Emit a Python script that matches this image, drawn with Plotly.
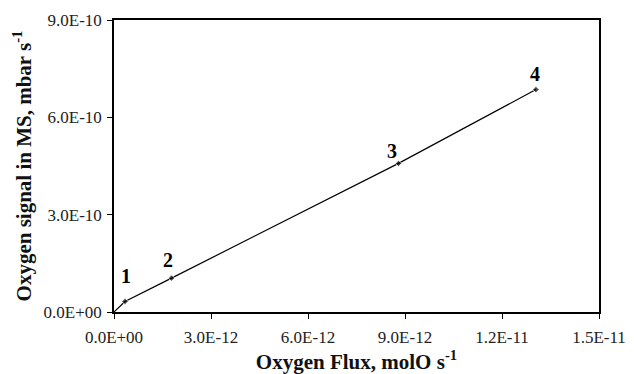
import plotly.graph_objects as go

# Data
flux = [0.0, 3.4e-13, 1.78e-12, 8.8e-12, 1.305e-11]
signal = [0.0, 3.25e-11, 1.045e-10, 4.58e-10, 6.855e-10]
labels = ["", "1", "2", "3", "4"]
x_ticks = [0, 3e-12, 6e-12, 9e-12, 1.2e-11, 1.5e-11]
x_ticktext = ["0.0E+00", "3.0E-12", "6.0E-12", "9.0E-12", "1.2E-11", "1.5E-11"]
y_ticks = [0, 3e-10, 6e-10, 9e-10]
y_ticktext = ["0.0E+00", "3.0E-10", "6.0E-10", "9.0E-10"]
label_dx = [0, 1, -4, -7, -1]
label_dy = [0, 25, 18, 12, 16]

FONT = "Liberation Serif"

fig = go.Figure()
fig.add_trace(go.Scatter(
    x=flux, y=signal, mode="lines+markers",
    line=dict(color="black", width=1.2),
    marker=dict(color="black", size=[0, 5, 5, 5, 5], symbol="diamond"),
    showlegend=False, cliponaxis=False,
))

for xv, yv, t, dx, dy in zip(flux, signal, labels, label_dx, label_dy):
    if not t:
        continue
    fig.add_annotation(x=xv, y=yv, text="<b>%s</b>" % t, showarrow=False,
                       xshift=dx, yshift=dy,
                       font=dict(family=FONT, size=20, color="black"))

fig.update_layout(
    width=634, height=374,
    margin=dict(l=114, r=35, t=19.5, b=62),
    paper_bgcolor="white", plot_bgcolor="white",
    font=dict(family=FONT, color="#222222"),
)
fig.update_xaxes(
    range=[0, 1.5e-11], tickvals=x_ticks, ticktext=x_ticktext,
    showgrid=False, zeroline=False, automargin=False,
    showline=True, linecolor="black", linewidth=1.5, mirror=True,
    ticks="outside", ticklen=5, tickcolor="black", tickwidth=1,
    ticklabelstandoff=4,
    tickfont=dict(family=FONT, size=17, color="#222222"),
    title=dict(text="<b>Oxygen Flux, molO s<sup>-1</sup></b>",
               font=dict(family=FONT, size=21, color="#111111"), standoff=10),
)
fig.update_yaxes(
    range=[0, 9e-10], tickvals=y_ticks, ticktext=y_ticktext,
    showgrid=False, zeroline=False, automargin=False,
    showline=True, linecolor="black", linewidth=1.5, mirror=True,
    ticks="outside", ticklen=5, tickcolor="black", tickwidth=1,
    ticklabelstandoff=2,
    tickfont=dict(family=FONT, size=17, color="#222222"),
    title=dict(text="<b>Oxygen signal in MS, mbar s<sup>-1</sup></b>",
               font=dict(family=FONT, size=21, color="#111111"), standoff=6),
)

fig.write_html("out.html")
